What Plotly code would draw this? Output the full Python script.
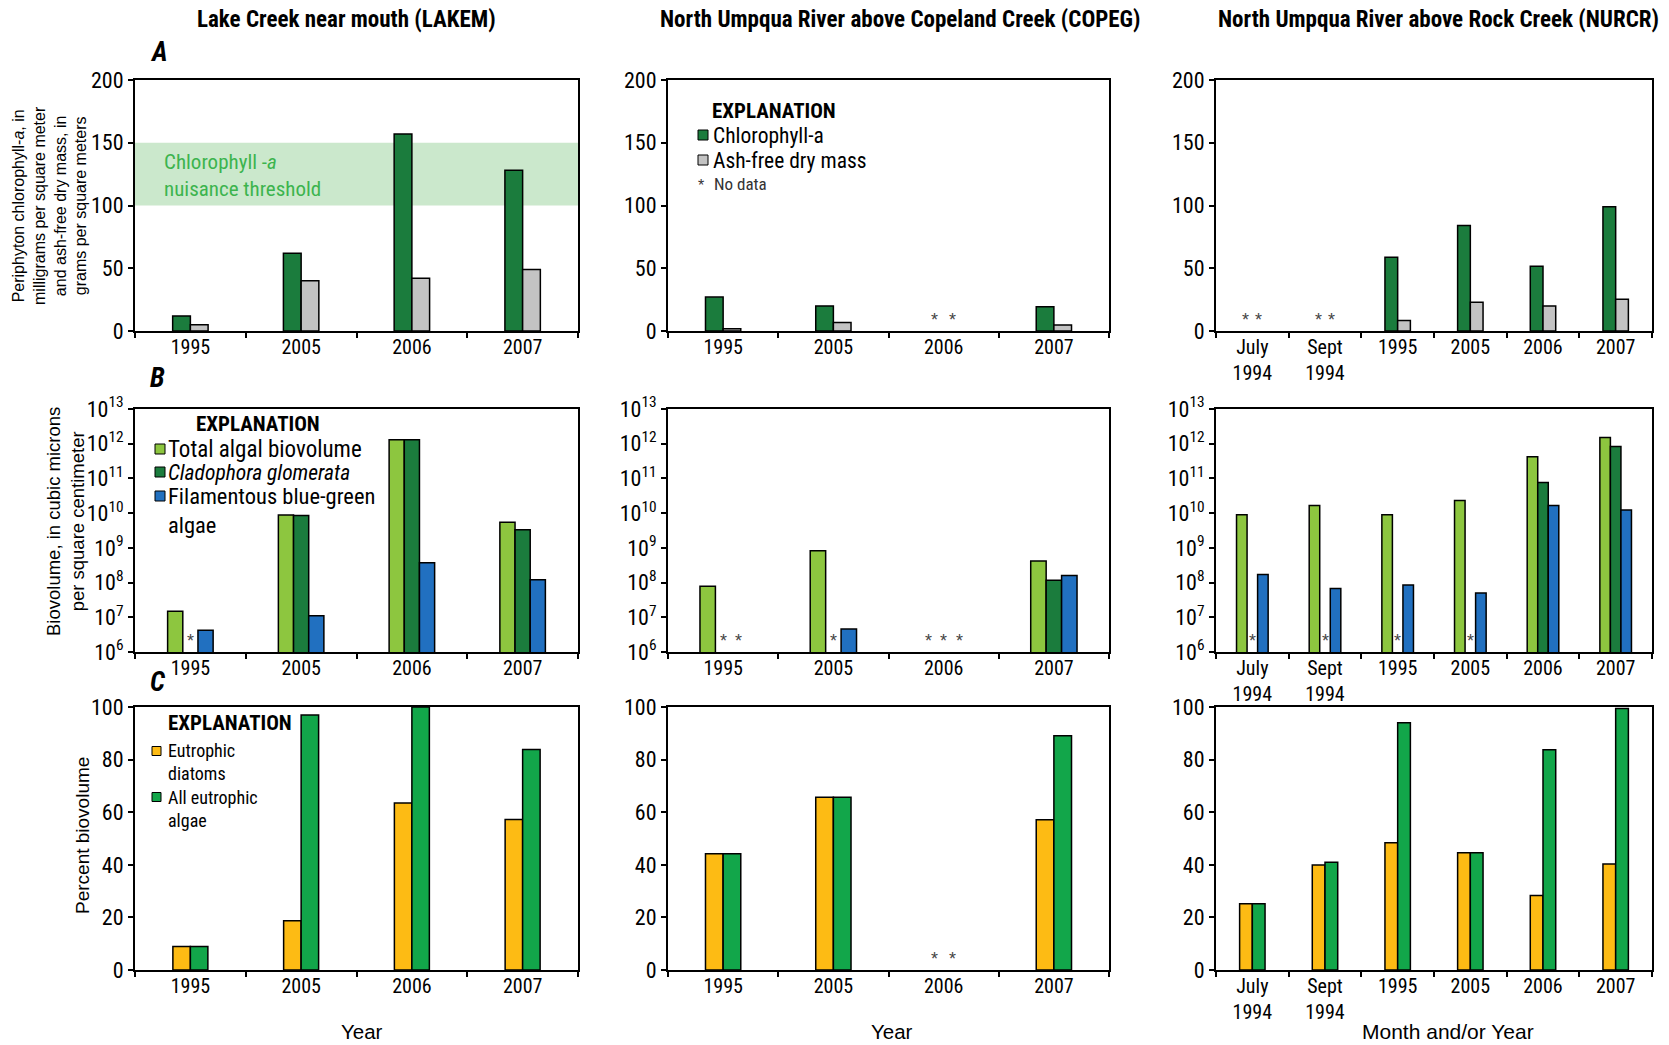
import plotly.graph_objects as go

W, H = 1669, 1045

# ---------------- data ----------------
YEARS4 = ["1995", "2005", "2006", "2007"]
NURCR_X = ["July<br>1994", "Sept<br>1994", "1995", "2005", "2006", "2007"]

# Panel A: periphyton chlorophyll-a (mg/m2) and ash-free dry mass (g/m2)
LAKEM_CHL = [12, 62, 157, 128]
LAKEM_AFDM = [5, 40, 42, 49]
COPEG_CHL = [27, 20, None, 19.3]
COPEG_AFDM = [1.8, 6.7, None, 4.8]
NURCR_CHL = [None, None, 58.7, 84, 51.5, 99]
NURCR_AFDM = [None, None, 8.3, 23, 20, 25.3]
THRESHOLD = [100, 150]

# Panel B: biovolume (cubic microns per cm2)
LAKEM_TOTAL = [1.5e7, 8.9e9, 1.3e12, 5.5e9]
LAKEM_CLAD = [None, 8.5e9, 1.3e12, 3.3e9]
LAKEM_BLUE = [4.2e6, 1.1e7, 3.7e8, 1.2e8]
COPEG_TOTAL = [7.9e7, 8.2e8, None, 4.2e8]
COPEG_CLAD = [None, None, None, 1.17e8]
COPEG_BLUE = [None, 4.6e6, None, 1.6e8]
NURCR_TOTAL = [9.0e9, 1.66e10, 9.0e9, 2.3e10, 4.2e11, 1.5e12]
NURCR_CLAD = [None, None, None, None, 7.6e10, 8.3e11]
NURCR_BLUE = [1.7e8, 6.8e7, 8.5e7, 5.0e7, 1.66e10, 1.24e10]

# Panel C: percent biovolume
LAKEM_EUD = [8.9, 18.7, 63.5, 57.2]
LAKEM_ALL = [8.9, 97, 100, 83.8]
COPEG_EUD = [44.2, 65.7, None, 57.1]
COPEG_ALL = [44.2, 65.7, None, 89.1]
NURCR_EUD = [25.2, 39.9, 48.4, 44.6, 28.3, 40.3]
NURCR_ALL = [25.2, 41.0, 94.0, 44.6, 83.7, 99.4]

COL_TITLES = ["Lake Creek near mouth (LAKEM)",
              "North Umpqua River above Copeland Creek (COPEG)",
              "North Umpqua River above Rock Creek (NURCR)"]
LOG_TICKS = list(range(6, 14))

# ---------------- style ----------------
C_CHL = "#1b7c3d"
C_AFDM = "#c3c3c3"
C_TOTAL = "#8dc63f"
C_CLAD = "#1b7c3d"
C_BLUE = "#2170c0"
C_EUD = "#fdbb14"
C_ALL = "#12a64a"
C_BAND = "#cbe8cc"
C_BANDTXT = "#3cb44e"

NARROW = "Liberation Sans Narrow, Arial Narrow, Roboto Condensed, DejaVu Sans Condensed, sans-serif"
SANS = "Liberation Sans, Arial, sans-serif"

COLS = [(135, 578), (668, 1109), (1216, 1652)]
ROWS = [(80, 331), (409, 652), (707, 970)]


def X(px):
    return px / W


def Y(py):
    return 1 - py / H


fig = go.Figure()
annotations = []
shapes = []

panels = [
    # row A
    dict(cats=YEARS4, series=[(LAKEM_CHL, C_CHL), (LAKEM_AFDM, C_AFDM)], w=0.16, kind="A"),
    dict(cats=YEARS4, series=[(COPEG_CHL, C_CHL), (COPEG_AFDM, C_AFDM)], w=0.16, kind="A"),
    dict(cats=NURCR_X, series=[(NURCR_CHL, C_CHL), (NURCR_AFDM, C_AFDM)], w=0.175, kind="A"),
    # row B
    dict(cats=YEARS4, series=[(LAKEM_TOTAL, C_TOTAL), (LAKEM_CLAD, C_CLAD), (LAKEM_BLUE, C_BLUE)], w=0.137, kind="B"),
    dict(cats=YEARS4, series=[(COPEG_TOTAL, C_TOTAL), (COPEG_CLAD, C_CLAD), (COPEG_BLUE, C_BLUE)], w=0.14, kind="B"),
    dict(cats=NURCR_X, series=[(NURCR_TOTAL, C_TOTAL), (NURCR_CLAD, C_CLAD), (NURCR_BLUE, C_BLUE)], w=0.145, kind="B"),
    # row C
    dict(cats=YEARS4, series=[(LAKEM_EUD, C_EUD), (LAKEM_ALL, C_ALL)], w=0.158, kind="C"),
    dict(cats=YEARS4, series=[(COPEG_EUD, C_EUD), (COPEG_ALL, C_ALL)], w=0.16, kind="C"),
    dict(cats=NURCR_X, series=[(NURCR_EUD, C_EUD), (NURCR_ALL, C_ALL)], w=0.175, kind="C"),
]

layout_axes = {}
for k, p in enumerate(panels):
    r, c = divmod(k, 3)
    idx = k + 1
    xa = "x" if idx == 1 else f"x{idx}"
    ya = "y" if idx == 1 else f"y{idx}"
    n = len(p["series"])
    w = p["w"]
    for i, (vals, col) in enumerate(p["series"]):
        fig.add_trace(go.Bar(
            x=p["cats"], y=vals, xaxis=xa, yaxis=ya,
            width=w, offset=-n * w / 2 + i * w,
            marker=dict(color=col, line=dict(color="black", width=1.5)),
            showlegend=False, hoverinfo="x+y"))
        # asterisks for missing values
        for j, v in enumerate(vals):
            if v is None:
                annotations.append(dict(
                    x=j - n * w / 2 + (i + 0.5) * w, xref=xa,
                    y=(6 if p["kind"] == "B" else 0), yref=ya,
                    text="*", showarrow=False, yanchor="bottom", xanchor="center",
                    borderpad=0,
                    font=dict(family=SANS, size=18, color="#444444")))

    xkey = "xaxis" if idx == 1 else f"xaxis{idx}"
    ykey = "yaxis" if idx == 1 else f"yaxis{idx}"
    layout_axes[xkey] = dict(
        domain=[X(COLS[c][0]), X(COLS[c][1])], anchor=ya, type="category",
        categoryorder="array", categoryarray=p["cats"],
        range=[-0.5, len(p["cats"]) - 0.5], automargin=False,
        showline=True, linecolor="black", linewidth=2, mirror=True,
        ticks="outside", tickson="boundaries", ticklen=5, tickwidth=1.5, tickcolor="black",
        ticklabelstandoff=-3,
        tickfont=dict(family=NARROW, size=20, color="black"),
        showgrid=False, zeroline=False, fixedrange=True)
    ydict = dict(
        domain=[Y(ROWS[r][1]), Y(ROWS[r][0])], anchor=xa, automargin=False,
        showline=True, linecolor="black", linewidth=2, mirror=True,
        ticks="outside", ticklen=5, tickwidth=1.5, tickcolor="black",
        tickfont=dict(family=NARROW, size=22, color="black"),
        showgrid=False, zeroline=False, fixedrange=True)
    if p["kind"] == "A":
        ydict.update(range=[0, 200], tickvals=[0, 50, 100, 150, 200])
    elif p["kind"] == "B":
        ydict.update(type="log", range=[6, 13], tickvals=[10 ** e for e in LOG_TICKS],
                     ticktext=[f"10<sup>{e}</sup>" for e in LOG_TICKS])
    else:
        ydict.update(range=[0, 100], tickvals=[0, 20, 40, 60, 80, 100])
    layout_axes[ykey] = ydict

# nuisance threshold band (LAKEM panel A)
shapes.append(dict(type="rect", xref="x domain", yref="y", x0=0, x1=1,
                   y0=THRESHOLD[0], y1=THRESHOLD[1], fillcolor=C_BAND,
                   line=dict(width=0), layer="below"))


def txt(x, y, text, size, family=NARROW, color="black", xanchor="left", yanchor="middle",
        angle=0, align="left"):
    annotations.append(dict(x=X(x), y=Y(y), xref="paper", yref="paper", text=text,
                            showarrow=False, xanchor=xanchor, yanchor=yanchor, textangle=angle,
                            borderpad=0, align=align,
                            font=dict(family=family, size=size, color=color)))


def square(x0, yc, size, color):
    shapes.append(dict(type="rect", xref="paper", yref="paper",
                       x0=X(x0), x1=X(x0 + size), y0=Y(yc + size / 2), y1=Y(yc - size / 2),
                       fillcolor=color, line=dict(color="black", width=1)))


# column titles
for (cx, t) in zip([346, 900, 1438], COL_TITLES):
    txt(cx, 20, f"<b>{t}</b>", 23, xanchor="center")

# panel letters
txt(149, 52, "<b><i>A</i></b>", 27)
txt(149, 378, "<b><i>B</i></b>", 27)
txt(149, 682, "<b><i>C</i></b>", 27)

# y-axis titles
txt(49, 206, "Periphyton chlorophyll-<i>a</i>, in<br>milligrams per square meter<br>"
             "and ash-free dry mass, in<br>grams per square meters",
    16, family=SANS, xanchor="center", angle=-90, align="center")
txt(65, 522, "Biovolume, in cubic microns<br>per square centimeter", 18.5, family=SANS,
    xanchor="center", angle=-90, align="center")
txt(82, 836, "Percent biovolume", 19, family=SANS, xanchor="center", angle=-90, align="center")

# x-axis titles
txt(362, 1031, "Year", 20.5, family=SANS, xanchor="center")
txt(892, 1031, "Year", 20.5, family=SANS, xanchor="center")
txt(1448, 1031, "Month and/or Year", 21, family=SANS, xanchor="center")

# threshold label
txt(163, 176, "Chlorophyll -<i>a</i><br>nuisance threshold", 21, color=C_BANDTXT)

# Explanation A (in COPEG panel)
txt(711, 111, "<b>EXPLANATION</b>", 21)
square(698, 135, 10, C_CHL)
txt(712, 135, "Chlorophyll-a", 21.5)
square(698, 160, 10, C_AFDM)
txt(712, 160, "Ash-free dry mass", 21.5)
txt(701, 185, "*", 16, family=SANS, color="#333333", xanchor="center")
txt(713, 184, "No data", 17, color="#333333")

# Explanation B (in LAKEM panel B)
txt(195, 424, "<b>EXPLANATION</b>", 21)
square(155, 449, 10, C_TOTAL)
txt(167, 449, "Total algal biovolume", 23)
square(155, 472, 10, C_CLAD)
txt(167, 472, "<i>Cladophora glomerata</i>", 21.5)
square(155, 496, 10, C_BLUE)
txt(167, 510, "Filamentous blue-green<br>algae", 22.5)

# Explanation C (in LAKEM panel C)
txt(167, 723, "<b>EXPLANATION</b>", 21)
square(152, 751, 9, C_EUD)
txt(167, 762, "Eutrophic<br>diatoms", 18)
square(152, 797, 9, C_ALL)
txt(167, 809, "All eutrophic<br>algae", 18)

fig.update_layout(
    width=W, height=H, autosize=False,
    margin=dict(l=0, r=0, t=0, b=0, pad=0, autoexpand=False),
    paper_bgcolor="white", plot_bgcolor="white",
    barmode="overlay", showlegend=False,
    annotations=annotations, shapes=shapes,
    **layout_axes)

fig.write_html("out.html", config={"displayModeBar": False},
               post_script="document.body.style.margin='0px';document.body.style.overflow='hidden';")
